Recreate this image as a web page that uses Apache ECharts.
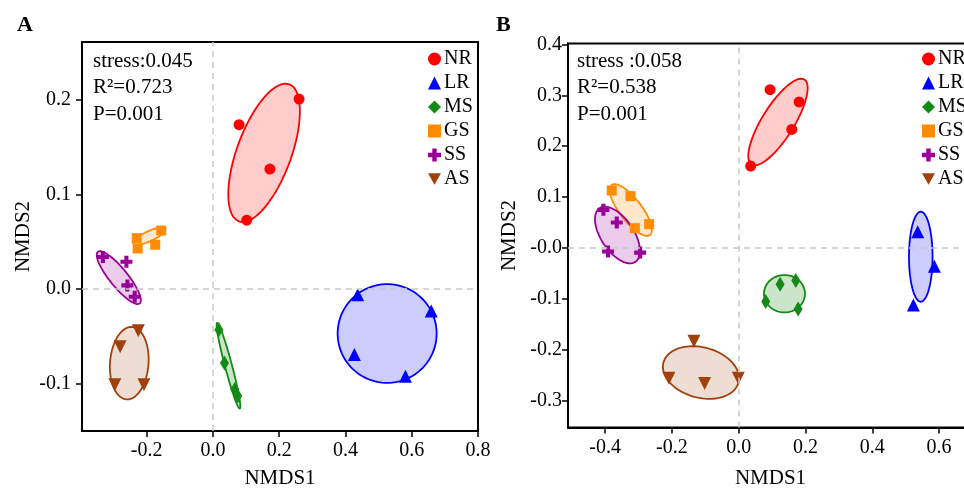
<!DOCTYPE html>
<html>
<head>
<meta charset="utf-8">
<script src="https://cdn.jsdelivr.net/npm/echarts@6/dist/echarts.min.js"></script>
<style>
  html, body { margin: 0; padding: 0; background: #fff; }
  #chart { width: 964px; height: 488px; }
</style>
</head>
<body>
<div id="chart"></div>
<script>
// groups and their look
var groups = ['NR', 'LR', 'MS', 'GS', 'SS', 'AS'];
var colors = ['#ff0000', '#0000ff', '#138a13', '#ff8c00', '#990099', '#a0410d'];
var fills = ['rgba(255,0,0,0.2)', 'rgba(0,0,255,0.2)', 'rgba(19,138,19,0.22)',
             'rgba(255,140,0,0.2)', 'rgba(153,0,153,0.2)', 'rgba(160,65,13,0.18)'];

// panel A points (NMDS1, NMDS2)
var a_NR = [[0.079, 0.174], [0.260, 0.201], [0.172, 0.127], [0.102, 0.073]];
var a_LR = [[0.437, -0.006], [0.659, -0.023], [0.427, -0.069], [0.581, -0.092]];
var a_MS = [[0.018, -0.043], [0.035, -0.078], [0.066, -0.106], [0.075, -0.113]];
var a_GS = [[-0.230, 0.054], [-0.156, 0.062], [-0.174, 0.047], [-0.227, 0.043]];
var a_SS = [[-0.332, 0.034], [-0.261, 0.029], [-0.258, 0.004], [-0.236, -0.008]];
var a_AS = [[-0.225, -0.044], [-0.280, -0.061], [-0.296, -0.101], [-0.208, -0.101]];

// panel B points
var b_NR = [[0.036, 0.161], [0.094, 0.311], [0.181, 0.287], [0.159, 0.233]];
var b_LR = [[0.536, 0.032], [0.586, -0.036], [0.523, -0.112]];
var b_MS = [[0.124, -0.071], [0.171, -0.064], [0.081, -0.105], [0.178, -0.120]];
var b_GS = [[-0.380, 0.113], [-0.324, 0.102], [-0.268, 0.047], [-0.311, 0.039]];
var b_SS = [[-0.405, 0.075], [-0.365, 0.050], [-0.391, -0.007], [-0.295, -0.009]];
var b_AS = [[-0.134, -0.183], [-0.209, -0.256], [-0.102, -0.266], [-0.001, -0.256]];

// ellipses: centre x, centre y, semi-axis 1 (dx, dy), semi-axis 2 (dx, dy), data units
var a_ell = [
    [0.1545, 0.1442, 0.0758, 0.0725, 0.0770, -0.0098],
    [0.5258, -0.0469, 0.1494, 0, 0, 0.0522],
    [0.047, -0.081, 0.0342, -0.0453, 0.0103, 0.00095],
    [-0.1918, 0.0561, 0.0485, 0.0079, 0.0064, -0.0048],
    [-0.284, 0.0122, 0.063, -0.0273, 0.0212, 0.006],
    [-0.2524, -0.0783, 0.0085, 0.0383, 0.0579, -0.0016]
];
var b_ell = [
    [0.1177, 0.2475, 0.079, 0.0835, 0.0407, -0.0165],
    [0.5452, -0.0171, 0, 0.0884, 0.0353, 0],
    [0.1371, -0.0898, 0.0614, 0, 0, 0.0367],
    [-0.323, 0.0747, 0.0575, -0.0491, 0.026, 0.0132],
    [-0.3629, 0.0255, 0.0536, -0.0527, 0.0407, 0.0179],
    [-0.1129, -0.2446, 0.1138, -0.0079, -0.0075, 0.0511]
];

var statsA = ['stress:0.045', 'R\u00b2=0.723', 'P=0.001'];
var statsB = ['stress :0.058', 'R\u00b2=0.538', 'P=0.001'];

var xTicksA = [-0.2, 0, 0.2, 0.4, 0.6, 0.8];
var yTicksA = [-0.1, 0, 0.1, 0.2];
var xTicksB = [-0.4, -0.2, 0, 0.2, 0.4, 0.6];
var yTicksB = [-0.3, -0.2, -0.1, 0, 0.1, 0.2, 0.3, 0.4];

var ptsA = [a_NR, a_LR, a_MS, a_GS, a_SS, a_AS];
var ptsB = [b_NR, b_LR, b_MS, b_GS, b_SS, b_AS];

var plus = 'path://M3.3,0H6.7V3.3H10V6.7H6.7V10H3.3V6.7H0V3.3H3.3Z';
var downTri = 'path://M0,0H10L5,9Z';
var symbols = ['circle', 'triangle', 'diamond', 'rect', plus, 'triangle'];
var sizes = [11, 13, [9, 15], 10, 12, 13];
var rotates = [0, 0, 0, 0, 0, 180];

var FONT = 'Liberation Serif';

function ellipseSeries(ell, i, panel) {
    return {
        type: 'custom',
        name: groups[i] + ' ellipse',
        xAxisIndex: panel, yAxisIndex: panel,
        z: 2,
        silent: true,
        encode: { x: 0, y: 1 },
        data: [ell],
        renderItem: function (params, api) {
            var cx = api.value(0), cy = api.value(1);
            var c = api.coord([cx, cy]);
            var u = api.coord([cx + api.value(2), cy + api.value(3)]);
            var v = api.coord([cx + api.value(4), cy + api.value(5)]);
            var pts = [];
            for (var k = 0; k < 90; k++) {
                var t = k / 90 * Math.PI * 2;
                pts.push([
                    c[0] + (u[0] - c[0]) * Math.cos(t) + (v[0] - c[0]) * Math.sin(t),
                    c[1] + (u[1] - c[1]) * Math.cos(t) + (v[1] - c[1]) * Math.sin(t)
                ]);
            }
            return {
                type: 'polygon',
                shape: { points: pts },
                style: { fill: fills[i], stroke: colors[i], lineWidth: 1.8 }
            };
        }
    };
}

function pointSeries(pts, i, panel) {
    return {
        type: 'scatter',
        name: groups[i],
        xAxisIndex: panel, yAxisIndex: panel,
        z: 3,
        symbol: symbols[i],
        symbolSize: sizes[i],
        symbolRotate: rotates[i],
        itemStyle: { color: colors[i], opacity: 1 },
        data: pts
    };
}

function zeroLines(panel) {
    return {
        type: 'scatter',
        name: 'zero' + panel,
        xAxisIndex: panel, yAxisIndex: panel,
        z: 1,
        data: [],
        markLine: {
            silent: true,
            symbol: 'none',
            label: { show: false },
            lineStyle: { type: [6, 5], color: '#c8c8c8', width: 1.5 },
            data: [{ xAxis: 0 }, { yAxis: 0 }]
        }
    };
}

function fmt(v) { return v.toFixed(1); }
function fmtB(v) { return Math.abs(v) < 1e-9 ? '-0.0' : v.toFixed(1); }

function xAxis(panel, min, max, ticks, margin, gap) {
    return {
        gridIndex: panel, type: 'value', min: min, max: max,
        axisLine: { show: true, onZero: false, lineStyle: { color: '#000', width: 2 } },
        axisTick: { show: true, length: 6, customValues: ticks, lineStyle: { color: '#000', width: 1.5 } },
        axisLabel: { customValues: ticks, formatter: fmt, fontSize: 20, fontFamily: FONT, color: '#000', margin: margin },
        splitLine: { show: false },
        name: 'NMDS1', nameLocation: 'middle', nameGap: gap,
        nameTextStyle: { fontSize: 21, fontFamily: FONT, color: '#000' }
    };
}

function yAxis(panel, min, max, ticks, margin, f) {
    return {
        gridIndex: panel, type: 'value', min: min, max: max,
        axisLine: { show: true, onZero: false, lineStyle: { color: '#000', width: 2 } },
        axisTick: { show: true, length: 6, customValues: ticks, lineStyle: { color: '#000', width: 1.5 } },
        axisLabel: { customValues: ticks, formatter: f, fontSize: 20, fontFamily: FONT, color: '#000', margin: margin },
        splitLine: { show: false },
        name: 'NMDS2', nameLocation: 'middle', nameGap: 48,
        nameTextStyle: { fontSize: 21, fontFamily: FONT, color: '#000' }
    };
}

function legend(left) {
    return {
        left: left, top: 49, orient: 'vertical',
        padding: 0,
        selectedMode: false,
        itemWidth: 13, itemHeight: 13, itemGap: 4,
        textStyle: { fontSize: 20, fontFamily: FONT, color: '#000', padding: [0, 0, 0, -2] },
        data: groups.map(function (g, i) {
            return i === 5 ? { name: g, icon: downTri } : { name: g };
        })
    };
}

function statText(lines, left) {
    return lines.map(function (s, k) {
        return {
            type: 'text', left: left, top: 50.5 + k * 26.5,
            style: { text: s, font: '21px "' + FONT + '"', fill: '#000' }
        };
    });
}

var series = [zeroLines(0), zeroLines(1)];
groups.forEach(function (g, i) {
    series.push(ellipseSeries(a_ell[i], i, 0));
    series.push(ellipseSeries(b_ell[i], i, 1));
});
groups.forEach(function (g, i) {
    series.push(pointSeries(ptsA[i], i, 0));
    series.push(pointSeries(ptsB[i], i, 1));
});

var chart = echarts.init(document.getElementById('chart'), null, { renderer: 'canvas' });
chart.setOption({
    backgroundColor: '#fff',
    animation: false,
    grid: [
        { left: 82, top: 42, width: 396, height: 389, show: true, borderColor: '#000', borderWidth: 2,
          outerBoundsMode: 'none', containLabel: false },
        { left: 568, top: 43.5, width: 405, height: 384, show: true, borderColor: '#000', borderWidth: 2,
          outerBoundsMode: 'none', containLabel: false }
    ],
    xAxis: [
        xAxis(0, -0.395, 0.8, xTicksA, 10, 37),
        xAxis(1, -0.511, 0.7016, xTicksB, 10, 40)
    ],
    yAxis: [
        yAxis(0, -0.150, 0.2614, yTicksA, 11, fmt),
        yAxis(1, -0.3526, 0.4018, yTicksB, 6, fmtB)
    ],
    legend: [legend(428), legend(922)],
    graphic: [].concat(
        statText(statsA, 93),
        statText(statsB, 577),
        [
            { type: 'text', left: 17, top: 14, style: { text: 'A', font: 'bold 22px "' + FONT + '"', fill: '#000' } },
            { type: 'text', left: 496, top: 14, style: { text: 'B', font: 'bold 22px "' + FONT + '"', fill: '#000' } }
        ]
    ),
    series: series
});
</script>
</body>
</html>
